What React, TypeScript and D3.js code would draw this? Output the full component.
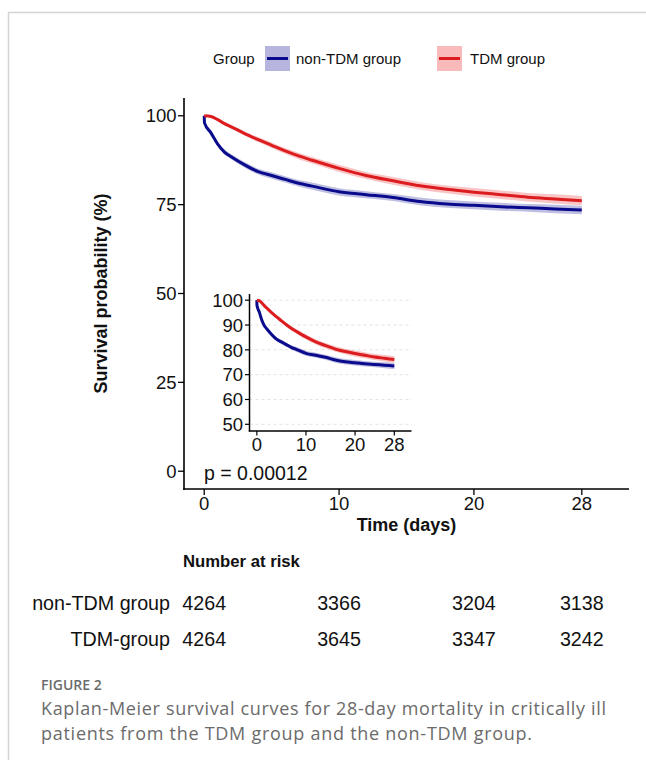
import React from "react";
import * as d3 from "d3";

// Kaplan-Meier estimates (survival in %)
const nonTdmTimes = [0, 0.02, 0.5, 1, 1.5, 2, 3, 4, 5, 6, 7, 8, 10, 12, 14, 16, 18, 20, 22, 24, 26, 28];
const nonTdmSurv = [100, 98.0, 95.2, 92.0, 89.8, 88.5, 86.2, 84.3, 83.2, 82.1, 81.0, 80.2, 78.6, 77.8, 77.0, 75.9, 75.2, 74.8, 74.4, 74.1, 73.8, 73.5];
const nonTdmCi = [0, 0.3, 0.5, 0.6, 0.7, 0.7, 0.8, 0.8, 0.9, 0.9, 0.9, 1.0, 1.0, 1.0, 1.0, 1.1, 1.1, 1.1, 1.1, 1.1, 1.2, 1.2];

const tdmTimes = [0, 0.5, 1, 1.5, 2, 3, 4, 5, 6, 7, 8, 10, 12, 14, 16, 18, 20, 22, 24, 26, 28];
const tdmSurv = [100, 99.8, 98.9, 97.8, 96.9, 95.0, 93.3, 91.7, 90.1, 88.7, 87.5, 85.2, 83.2, 81.7, 80.3, 79.3, 78.5, 77.8, 77.1, 76.6, 76.1];
const tdmCi = [0, 0.2, 0.3, 0.4, 0.5, 0.6, 0.7, 0.8, 0.8, 0.9, 0.9, 1.0, 1.0, 1.1, 1.1, 1.1, 1.2, 1.2, 1.2, 1.3, 1.3];

const xTicks = [0, 10, 20, 28];
const yTicks = [0, 25, 50, 75, 100];
const insetYTicks = [50, 60, 70, 80, 90, 100];

const riskGroups = ["non-TDM group", "TDM-group"];
const riskNonTdm = [4264, 3366, 3204, 3138];
const riskTdm = [4264, 3645, 3347, 3242];

const BLUE = "#0a0a8c";
const RED = "#dc1c1f";
const BLUE_FILL = "#2a2aa0";
const RED_FILL = "#ea3a3c";
const FONT = "'Liberation Sans', Arial, sans-serif";

type Pt = { t: number; s: number; ci: number };

const toPts = (ts: number[], ss: number[], cis: number[]): Pt[] =>
  ts.map((t, i) => ({ t, s: ss[i], ci: cis[i] }));

const series = [
  { key: "non-TDM group", pts: toPts(nonTdmTimes, nonTdmSurv, nonTdmCi), line: BLUE, fill: BLUE_FILL },
  { key: "TDM group", pts: toPts(tdmTimes, tdmSurv, tdmCi), line: RED, fill: RED_FILL },
];

function Curves({ x, y, width }: { x: d3.ScaleLinear<number, number>; y: d3.ScaleLinear<number, number>; width: number }) {
  const line = d3.line<Pt>().x((d) => x(d.t)).y((d) => y(d.s)).curve(d3.curveMonotoneX);
  const band = d3
    .area<Pt>()
    .x((d) => x(d.t))
    .y0((d) => y(d.s - d.ci))
    .y1((d) => y(d.s + d.ci))
    .curve(d3.curveMonotoneX);
  return (
    <g>
      {series.map((sr) => (
        <path key={sr.key + "b"} d={band(sr.pts) || ""} fill={sr.fill} opacity={0.3} />
      ))}
      {series.map((sr) => (
        <path key={sr.key} d={line(sr.pts) || ""} fill="none" stroke={sr.line} strokeWidth={width} strokeLinejoin="round" />
      ))}
    </g>
  );
}

export default function App() {
  // main panel
  const x = d3.scaleLinear().domain([-1.5, 31.5]).range([184, 629]);
  const y = d3.scaleLinear().domain([-5, 105]).range([489, 98]);
  // inset panel
  const xi = d3.scaleLinear().domain([-1.5, 31.5]).range([249.5, 411.5]);
  const yi = d3.scaleLinear().domain([47.5, 102.5]).range([430.5, 294]);

  return (
    <svg width={646} height={760} style={{ position: "absolute", left: 0, top: 0, background: "#fff" }} fontFamily={FONT}>
      {/* page frame */}
      <line x1={8} x2={646} y1={12.5} y2={12.5} stroke="#d4d4d4" strokeWidth={1.5} />
      <line x1={8.5} x2={8.5} y1={12} y2={760} stroke="#d4d4d4" strokeWidth={1.5} />

      {/* legend */}
      <text x={213} y={63.5} fontSize={15} fill="#111">Group</text>
      <rect x={265} y={46} width={25} height={25} fill={BLUE_FILL} opacity={0.35} />
      <line x1={267} x2={288} y1={58.5} y2={58.5} stroke={BLUE} strokeWidth={3} />
      <text x={296} y={63.5} fontSize={15} fill="#111">non-TDM group</text>
      <rect x={437} y={46} width={25} height={25} fill={RED_FILL} opacity={0.35} />
      <line x1={439} x2={460} y1={58.5} y2={58.5} stroke={RED} strokeWidth={3} />
      <text x={470} y={63.5} fontSize={15} fill="#111">TDM group</text>

      {/* main axes */}
      <line x1={184} x2={184} y1={98} y2={490} stroke="#000" strokeWidth={1.6} />
      <line x1={183.2} x2={629} y1={489} y2={489} stroke="#000" strokeWidth={1.6} />
      {yTicks.map((t) => (
        <g key={"y" + t}>
          <line x1={178} x2={184} y1={y(t)} y2={y(t)} stroke="#000" strokeWidth={1.3} />
          <text x={176.5} y={y(t)} dy="0.36em" textAnchor="end" fontSize={18.5} fill="#111">{t}</text>
        </g>
      ))}
      {xTicks.map((t) => (
        <g key={"x" + t}>
          <line x1={x(t)} x2={x(t)} y1={489} y2={495} stroke="#000" strokeWidth={1.3} />
          <text x={x(t)} y={510} textAnchor="middle" fontSize={18.5} fill="#111">{t}</text>
        </g>
      ))}
      <text x={406.5} y={531} textAnchor="middle" fontSize={18} fontWeight="bold" fill="#111">Time (days)</text>
      <text
        transform={`translate(107,${(98 + 489) / 2}) rotate(-90)`}
        textAnchor="middle"
        fontSize={18}
        fontWeight="bold"
        fill="#111"
      >
        Survival probability (%)
      </text>

      <Curves x={x} y={y} width={3} />

      {/* inset */}
      {insetYTicks.map((t) => (
        <line key={"g" + t} x1={249.5} x2={412} y1={yi(t)} y2={yi(t)} stroke="#dcdcdc" strokeWidth={0.8} strokeDasharray="3,3" />
      ))}
      <Curves x={xi} y={yi} width={3} />
      <line x1={249.5} x2={249.5} y1={294} y2={431.5} stroke="#000" strokeWidth={1.5} />
      <line x1={248.8} x2={411.5} y1={431} y2={431} stroke="#000" strokeWidth={1.5} />
      {insetYTicks.map((t) => (
        <g key={"iy" + t}>
          <line x1={245} x2={249.5} y1={yi(t)} y2={yi(t)} stroke="#000" strokeWidth={1.2} />
          <text x={243} y={yi(t)} dy="0.36em" textAnchor="end" fontSize={18.5} fill="#111">{t}</text>
        </g>
      ))}
      {xTicks.map((t) => (
        <g key={"ix" + t}>
          <line x1={xi(t)} x2={xi(t)} y1={431} y2={435.5} stroke="#000" strokeWidth={1.2} />
          <text x={xi(t)} y={450.5} textAnchor="middle" fontSize={18.5} fill="#111">{t}</text>
        </g>
      ))}

      <text x={204} y={480} fontSize={19.5} fill="#111">p = 0.00012</text>

      {/* risk table */}
      <text x={183} y={567} fontSize={16.7} fontWeight="bold" fill="#111">Number at risk</text>
      {[riskNonTdm, riskTdm].map((row, r) => (
        <g key={"r" + r}>
          <text x={170} y={610 + r * 36} textAnchor="end" fontSize={19.7} fill="#111">{riskGroups[r]}</text>
          {row.map((n, i) => (
            <text key={i} x={x(xTicks[i])} y={610 + r * 36} textAnchor="middle" fontSize={19.7} fill="#111">{n}</text>
          ))}
        </g>
      ))}

      {/* caption */}
      <text x={41} y={690} fontFamily="'Open Sans', sans-serif" fontSize={14} fontWeight={600} fill="#6b6b6b">FIGURE 2</text>
      <text x={41} y={715} fontFamily="'Open Sans', sans-serif" fontSize={18} fill="#6b6b6b" textLength={565} lengthAdjust="spacing">
        Kaplan-Meier survival curves for 28-day mortality in critically ill
      </text>
      <text x={41} y={740} fontFamily="'Open Sans', sans-serif" fontSize={18} fill="#6b6b6b" textLength={491} lengthAdjust="spacing">
        patients from the TDM group and the non-TDM group.
      </text>
    </svg>
  );
}
